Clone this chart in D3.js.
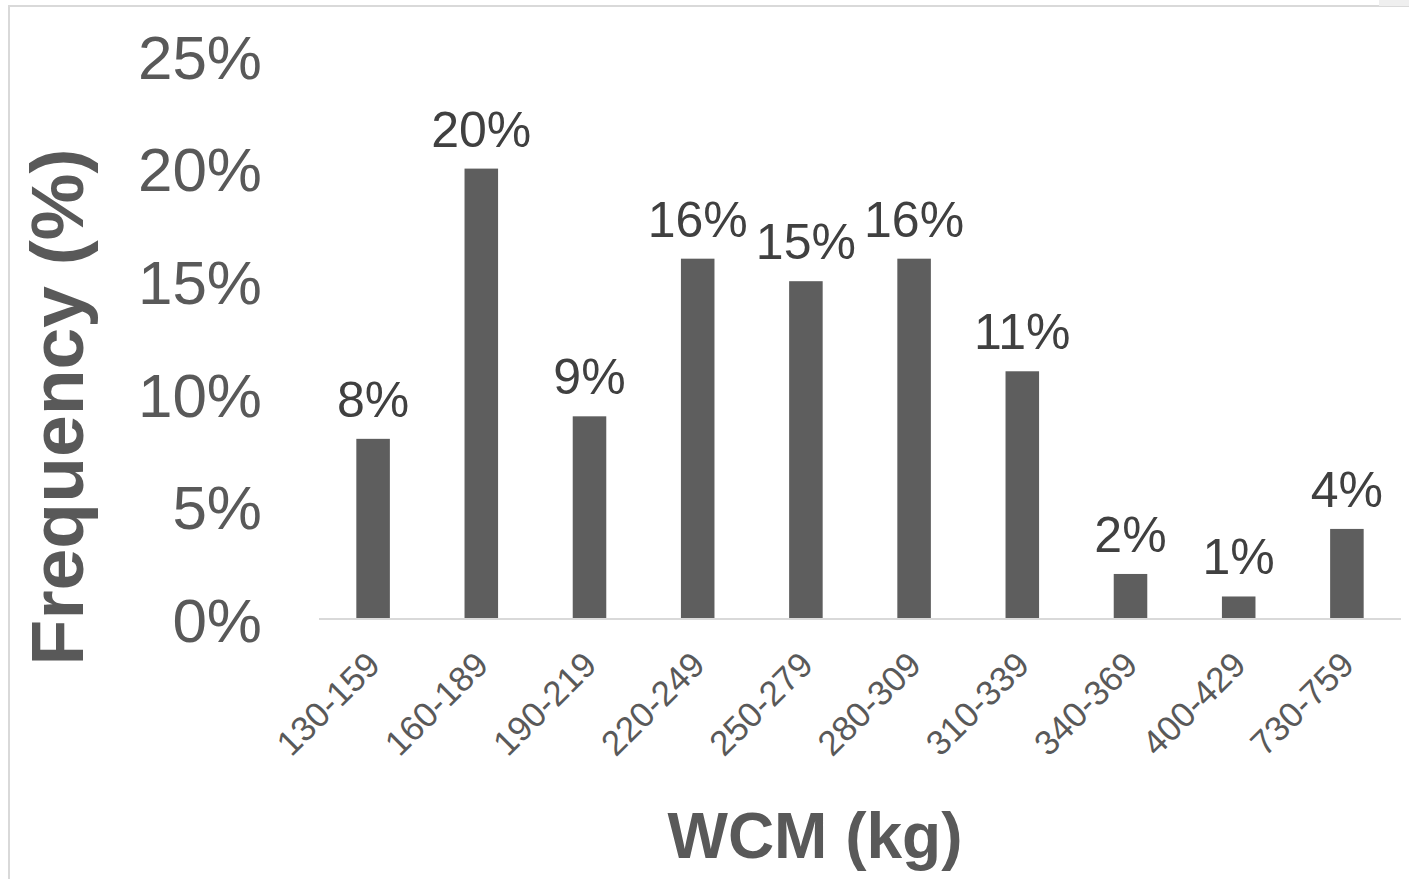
<!DOCTYPE html>
<html>
<head>
<meta charset="utf-8">
<script src="https://cdn.jsdelivr.net/npm/d3@7"></script>
<style>
  html, body { margin: 0; padding: 0; background: #fff; }
  svg { display: block; font-family: 'Liberation Sans', Arial, Helvetica, sans-serif; }
</style>
</head>
<body>
<svg id="chart" width="1409" height="879"></svg>
<script>
'use strict';

// chart data
let categories = ['130-159', '160-189', '190-219', '220-249', '250-279',
  '280-309', '310-339', '340-369', '400-429', '730-759'];
let frequency = [8, 20, 9, 16, 15, 16, 11, 2, 1, 4];
let yTicks = [0, 5, 10, 15, 20, 25];
let xTitle = 'WCM (kg)';
let yTitle = 'Frequency (%)';

let width = 1409;
let height = 879;
let margin = {left: 319, right: 8, top: 56, bottom: 259};

let svg = d3.select('#chart');

// outer frame, only the top and left edges are in view
svg.append('rect')
  .attr('x', 9)
  .attr('y', 6)
  .attr('width', width + 20)
  .attr('height', height + 20)
  .attr('fill', 'none')
  .attr('stroke', '#d9d9d9')
  .attr('stroke-width', 2);

svg.append('rect')
  .attr('x', 1379)
  .attr('y', 0)
  .attr('width', 30)
  .attr('height', 6)
  .attr('fill', '#efefef');

let x = d3.scaleBand()
  .domain(categories)
  .range([margin.left, width - margin.right])
  .paddingInner(0.69)
  .paddingOuter(0.345);

let y = d3.scaleLinear()
  .domain([0, 25])
  .range([height - margin.bottom - 1, margin.top]);

// y axis labels, no line
let yAxis = svg.append('g')
  .attr('transform', 'translate(262,0)')
  .call(d3.axisLeft(y)
    .tickValues(yTicks)
    .tickSize(0)
    .tickPadding(0)
    .tickFormat(function(d) { return d + '%'; }));
yAxis.select('.domain').remove();
yAxis.selectAll('text')
  .attr('font-size', '62px')
  .attr('font-family', null)
  .attr('fill', '#595959')
  .attr('dy', '0.36em');

// bars
svg.append('g')
  .selectAll('rect')
  .data(frequency)
  .join('rect')
  .attr('x', function(d, i) { return x(categories[i]); })
  .attr('y', function(d) { return y(d); })
  .attr('width', x.bandwidth())
  .attr('height', function(d) { return y(0) - y(d); })
  .attr('fill', '#5e5e5e');

// baseline
let xAxis = svg.append('g')
  .attr('transform', 'translate(0,' + y(0) + ')')
  .call(d3.axisBottom(x).tickSize(0).tickPadding(0));
xAxis.select('.domain')
  .attr('stroke', '#d9d9d9')
  .attr('stroke-width', 2)
  .attr('d', 'M' + margin.left + ',0H' + (width - margin.right));
xAxis.selectAll('.tick text')
  .attr('font-size', '35px')
  .attr('font-family', null)
  .attr('fill', '#595959')
  .attr('text-anchor', 'end')
  .attr('dy', null)
  .attr('y', 0)
  .attr('transform', 'translate(9,48) rotate(-45)');

// value labels
svg.append('g')
  .selectAll('text')
  .data(frequency)
  .join('text')
  .attr('x', function(d, i) { return x(categories[i]) + x.bandwidth() / 2; })
  .attr('y', function(d) { return y(d) - 22; })
  .attr('text-anchor', 'middle')
  .attr('font-size', '50px')
  .attr('fill', '#404040')
  .text(function(d) { return d + '%'; });

// axis titles
svg.append('text')
  .attr('transform', 'translate(83,407) rotate(-90)')
  .attr('text-anchor', 'middle')
  .attr('font-size', '75px')
  .attr('font-weight', 'bold')
  .attr('fill', '#595959')
  .text(yTitle);

svg.append('text')
  .attr('x', 815)
  .attr('y', 858)
  .attr('text-anchor', 'middle')
  .attr('font-size', '64px')
  .attr('font-weight', 'bold')
  .attr('fill', '#595959')
  .text(xTitle);
</script>
</body>
</html>
